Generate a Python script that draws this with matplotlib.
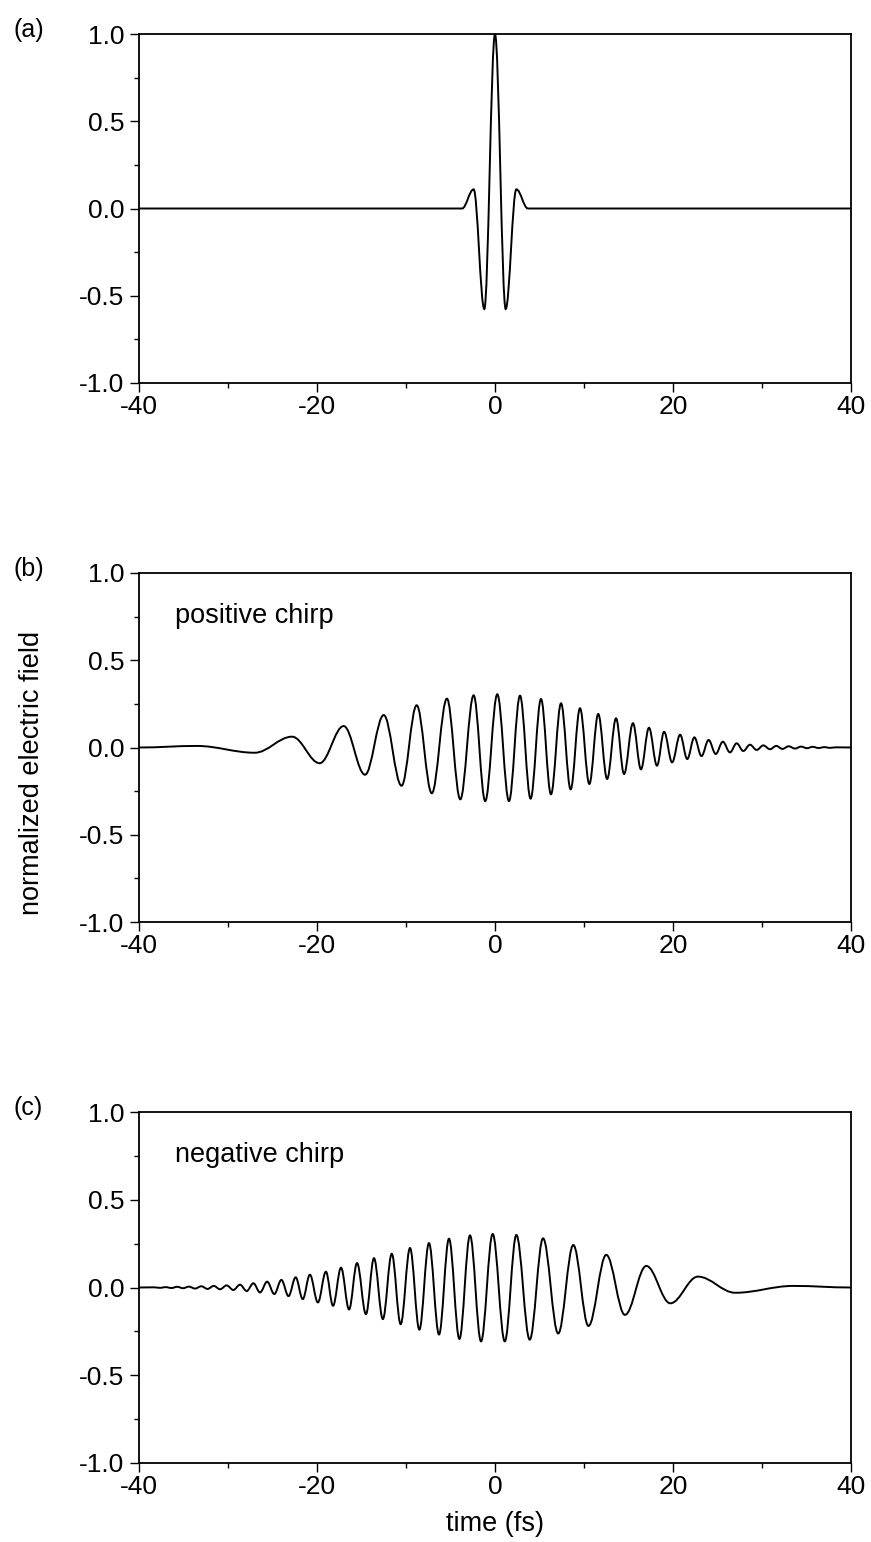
import numpy as np
import matplotlib
matplotlib.use("Agg")
import matplotlib.pyplot as plt
from matplotlib.path import Path
from matplotlib.patches import PathPatch

plt.rcParams["font.family"] = ["Liberation Sans", "DejaVu Sans"]
plt.rcParams["axes.unicode_minus"] = False

# ── extrema: time (fs), normalized field ──────────────────────────────────────
a_t = [-40, -3.7, -2.4, -1.2, 0.0, 1.2, 2.4, 3.7, 40]
a_v = [0, 0, 0.11, -0.576, 1.0, -0.576, 0.11, 0, 0]

b_t = [-40, -33.5, -27.0, -22.8, -19.7, -17.0, -14.6, -12.5, -10.5, -8.8, -7.1,
       -5.4, -3.9, -2.4, -1.1, 0.26, 1.57, 2.81, 4.0, 5.17, 6.29, 7.42, 8.5,
       9.55, 10.6, 11.6, 12.6, 13.6, 14.5, 15.5, 16.4, 17.3, 18.2, 19.0, 19.9,
       20.8, 21.6, 22.4, 23.2, 24.0, 24.8, 25.6, 26.4, 27.15, 27.9, 28.65,
       29.4, 30.15, 30.9, 31.6, 32.3, 33.0, 33.7, 34.4, 35.05, 35.7, 36.35,
       37.0, 37.65, 38.3, 40]
b_v = [0, 0.009, -0.03, 0.062, -0.09, 0.123, -0.156, 0.186, -0.219, 0.242,
       -0.262, 0.28, -0.297, 0.299, -0.307, 0.305, -0.307, 0.297, -0.293, 0.278,
       -0.268, 0.253, -0.24, 0.225, -0.209, 0.192, -0.18, 0.167, -0.152, 0.139,
       -0.125, 0.113, -0.104, 0.09, -0.085, 0.073, -0.066, 0.058, -0.049, 0.043,
       -0.037, 0.033, -0.028, 0.024, -0.02, 0.016, -0.014, 0.012, -0.01, 0.009,
       -0.008, 0.007, -0.006, 0.005, -0.004, 0.004, -0.003, 0.002, -0.002,
       0.001, 0]

c_t = [-40, -38.3, -37.65, -37.0, -36.35, -35.7, -35.05, -34.4, -33.7, -33.0,
       -32.3, -31.6, -30.9, -30.15, -29.4, -28.65, -27.9, -27.15, -26.4, -25.6,
       -24.8, -24.0, -23.2, -22.4, -21.6, -20.8, -19.9, -19.0, -18.2, -17.3,
       -16.4, -15.5, -14.5, -13.6, -12.6, -11.6, -10.6, -9.55, -8.5, -7.42,
       -6.29, -5.17, -4.0, -2.81, -1.57, -0.26, 1.1, 2.4, 3.9, 5.4, 7.1, 8.8,
       10.5, 12.5, 14.6, 17.0, 19.7, 22.8, 27.0, 33.5, 40]
c_v = [0, 0.001, -0.002, 0.002, -0.003, 0.004, -0.004, 0.005, -0.006, 0.007,
       -0.008, 0.009, -0.01, 0.012, -0.014, 0.016, -0.02, 0.024, -0.028, 0.033,
       -0.037, 0.043, -0.049, 0.058, -0.066, 0.073, -0.085, 0.09, -0.104, 0.113,
       -0.125, 0.139, -0.152, 0.167, -0.18, 0.192, -0.209, 0.225, -0.24, 0.253,
       -0.268, 0.278, -0.293, 0.297, -0.307, 0.305, -0.307, 0.299, -0.297, 0.28,
       -0.262, 0.242, -0.219, 0.186, -0.156, 0.123, -0.09, 0.062, -0.03, 0.009, 0]

panel_labels = ["(a)", "(b)", "(c)"]
notes = [None, "positive chirp", "negative chirp"]
x_ticks = [-40, -20, 0, 20, 40]
y_ticks = [-1.0, -0.5, 0.0, 0.5, 1.0]

FS = 19.5
LW = 1.4


def wave_path(t, v):
    # smooth half-cycles between neighbouring extrema (flat tangent at each one)
    k = 1 - 2 / np.pi
    verts, codes = [(t[0], v[0])], [Path.MOVETO]
    for i in range(len(t) - 1):
        dt = t[i + 1] - t[i]
        verts += [(t[i] + k * dt, v[i]), (t[i + 1] - k * dt, v[i + 1]), (t[i + 1], v[i + 1])]
        codes += [Path.CURVE4] * 3
    return Path(verts, codes)


fig = plt.figure(figsize=(8.71, 15.42), dpi=100)
W, H = 871, 1542
left, right = 139, 851
tops = [34, 573, 1112]
bots = [383, 922, 1463]

series = [(a_t, a_v), (b_t, b_v), (c_t, c_v)]
for i, (t, v) in enumerate(series):
    ax = fig.add_axes([left / W, 1 - bots[i] / H, (right - left) / W, (bots[i] - tops[i]) / H])
    ax.add_patch(PathPatch(wave_path(t, v), fill=False, edgecolor="black", lw=LW))
    ax.set_xlim(-40, 40)
    ax.set_ylim(-1.0, 1.0)
    ax.set_xticks(x_ticks)
    ax.set_yticks(y_ticks)
    ax.set_xticks(np.arange(-30, 40, 20), minor=True)
    ax.set_yticks([-0.75, -0.25, 0.25, 0.75], minor=True)
    ax.set_yticklabels([f"{y:.1f}" for y in y_ticks])
    ax.tick_params(which="major", direction="out", length=6.5, width=1.0,
                   labelsize=19, pad=2)
    ax.tick_params(axis="y", which="major", pad=4)
    ax.tick_params(which="minor", direction="out", length=3.5, width=1.0)
    for sp in ax.spines.values():
        sp.set_linewidth(1.3)
    fig.text(13 / W, 1 - (tops[i] - 4) / H, panel_labels[i], fontsize=18,
             ha="left", va="center")
    if notes[i]:
        ax.text(-35.96, 0.713, notes[i], fontsize=FS, ha="left", va="baseline")
    if i == 2:
        ax.set_xlabel("time (fs)", fontsize=FS, labelpad=9)

fig.text(32 / W, 1 - 773 / H, "normalized electric field", fontsize=FS,
         rotation=90, ha="center", va="center")

fig.savefig("out.png", dpi=100)
